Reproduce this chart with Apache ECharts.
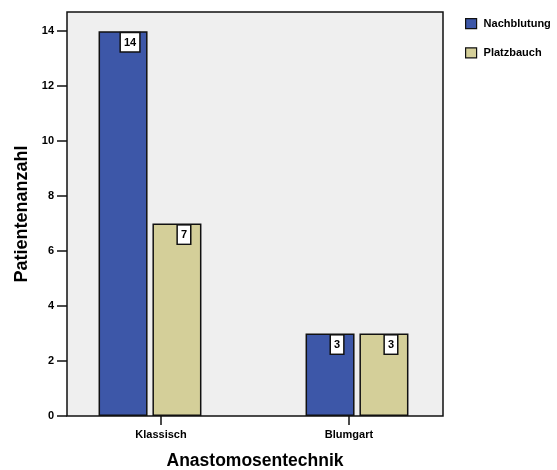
<!DOCTYPE html>
<html>
<head>
<meta charset="utf-8">
<script src="https://cdn.jsdelivr.net/npm/echarts@6/dist/echarts.min.js"></script>
<style>
  html, body { margin: 0; padding: 0; background: #fff; }
  #chart { width: 557px; height: 470px; }
</style>
</head>
<body>
<div id="chart"></div>
<script>
// Complications by anastomosis technique
const categories = ['Klassisch', 'Blumgart'];
const seriesNames = ['Nachblutung', 'Platzbauch'];
const nachblutung = [14, 3];
const platzbauch = [7, 3];
const yTicks = [0, 2, 4, 6, 8, 10, 12, 14];

const FONT = '"Liberation Sans", Arial, sans-serif';
const BLUE = '#3d57a8';
const TAN = '#d4cf99';
const Y_MAX = 14.7;

const labelStyle = {
  show: true,
  position: 'insideTop',
  distance: 0,
  offset: [7, 2],
  backgroundColor: '#ffffff',
  borderColor: '#111',
  borderWidth: 1.5,
  padding: [4, 3, 3, 3],
  color: '#000',
  fontFamily: FONT,
  fontWeight: 'bold',
  fontSize: 11
};

const chart = echarts.init(document.getElementById('chart'), null, { renderer: 'canvas' });
chart.setOption({
  animation: false,
  backgroundColor: '#ffffff',
  textStyle: { fontFamily: FONT },
  legend: {
    orient: 'vertical',
    left: 460,
    top: 13,
    icon: 'rect',
    itemWidth: 11,
    itemHeight: 10,
    itemGap: 18,
    data: seriesNames,
    itemStyle: { borderColor: '#111', borderWidth: 1.2 },
    textStyle: { fontFamily: FONT, fontWeight: 'bold', fontSize: 11, color: '#000', padding: [0, 0, 0, 2] }
  },
  grid: [
    // frame and visible axes
    { left: 67, right: 114, top: 12, bottom: 54, outerBoundsMode: 'none', containLabel: false,
      show: true, backgroundColor: '#efefef', borderColor: '#111', borderWidth: 1.5 },
    // bar layout
    { left: 46.5, right: 96.5, top: 12, bottom: 54, outerBoundsMode: 'none', containLabel: false }
  ],
  xAxis: [
    {
      gridIndex: 0,
      type: 'category',
      data: categories,
      name: 'Anastomosentechnik',
      nameLocation: 'middle',
      nameGap: 36,
      nameTextStyle: { fontFamily: FONT, fontWeight: 'bold', fontSize: 17.5, color: '#000' },
      axisLine: { show: false },
      axisTick: { show: true, alignWithLabel: true, length: 9, lineStyle: { color: '#111', width: 1.5 } },
      axisLabel: { margin: 13, fontFamily: FONT, fontWeight: 'bold', fontSize: 11, color: '#000' }
    },
    {
      gridIndex: 1,
      type: 'category',
      data: categories,
      show: false
    }
  ],
  yAxis: [
    {
      gridIndex: 0,
      type: 'value',
      min: 0,
      max: Y_MAX,
      name: 'Patientenanzahl',
      nameLocation: 'middle',
      nameRotate: 90,
      nameGap: 35,
      nameTextStyle: { fontFamily: FONT, fontWeight: 'bold', fontSize: 18, color: '#000' },
      axisLine: { show: false },
      splitLine: { show: false },
      axisTick: { show: true, length: 10, customValues: yTicks, lineStyle: { color: '#111', width: 1.5 } },
      axisLabel: { margin: 13, customValues: yTicks, fontFamily: FONT, fontWeight: 'bold', fontSize: 11, color: '#000' }
    },
    {
      gridIndex: 1,
      type: 'value',
      min: 0,
      max: Y_MAX,
      show: false,
      splitLine: { show: false }
    }
  ],
  series: [
    {
      name: seriesNames[0],
      type: 'bar',
      xAxisIndex: 1,
      yAxisIndex: 1,
      data: nachblutung,
      barWidth: 49,
      barGap: '10%',
      itemStyle: { color: BLUE, borderColor: '#111', borderWidth: 1.5 },
      label: labelStyle
    },
    {
      name: seriesNames[1],
      type: 'bar',
      xAxisIndex: 1,
      yAxisIndex: 1,
      data: platzbauch,
      barWidth: 49,
      barGap: '10%',
      itemStyle: { color: TAN, borderColor: '#111', borderWidth: 1.5 },
      label: labelStyle
    }
  ]
});
</script>
</body>
</html>
